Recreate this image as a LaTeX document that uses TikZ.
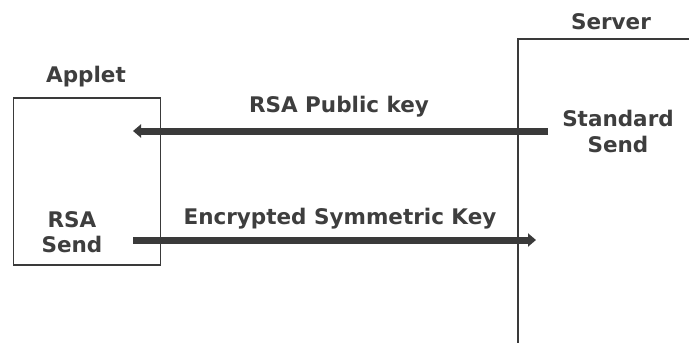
\documentclass[tikz,border=0pt]{standalone}
\usepackage{fontspec}
\setmainfont{DejaVu Sans}
\usetikzlibrary{arrows.meta}
\definecolor{ink}{HTML}{3A3A3A}
\definecolor{txt}{HTML}{3E3E3E}
\tikzset{
  lbl/.style={text=txt, font=\fontsize{21.5}{26}\selectfont\bfseries, inner sep=0pt, align=center},
  boxline/.style={draw=ink, line width=1.2pt},
  msg/.style={draw=ink, line width=7pt, -{Triangle[width=13pt,length=8pt]}}
}
\begin{document}
\begin{tikzpicture}[x=1pt, y=-1pt]
  \useasboundingbox (0,0) rectangle (689,343);
  \fill[white] (0,0) rectangle (689,343);

  % applet box
  \node[boxline, minimum width=147pt, minimum height=167pt, inner sep=0pt] (applet) at (87,181.5) {};
  \node[lbl] (appletlbl) at (86,77) {Applet};
  \node[lbl, align=center] (rsasend) at (72,232) {RSA\\[-1pt]Send};

  % server box, open to the right and below
  \coordinate (srvtop) at (689,39);
  \coordinate (srvcorner) at (518,39);
  \coordinate (srvbottom) at (518,343);
  \draw[boxline] (srvtop) -- (srvcorner) -- (srvbottom);
  \node[lbl] (serverlbl) at (611,22) {Server};
  \node[lbl] (stdsend) at (618,131) {Standard\\[0pt]Send};

  % messages
  \coordinate (pkfrom) at (548,131);
  \coordinate (pkto) at (133,131);
  \draw[msg] (pkfrom) -- (pkto);
  \node[lbl] (pklbl) at (339,107) {RSA Public key};

  \coordinate (skfrom) at (133,240);
  \coordinate (skto) at (536,240);
  \draw[msg] (skfrom) -- (skto);
  \node[lbl] (sklbl) at (340,219) {Encrypted Symmetric Key};
\end{tikzpicture}
\end{document}
